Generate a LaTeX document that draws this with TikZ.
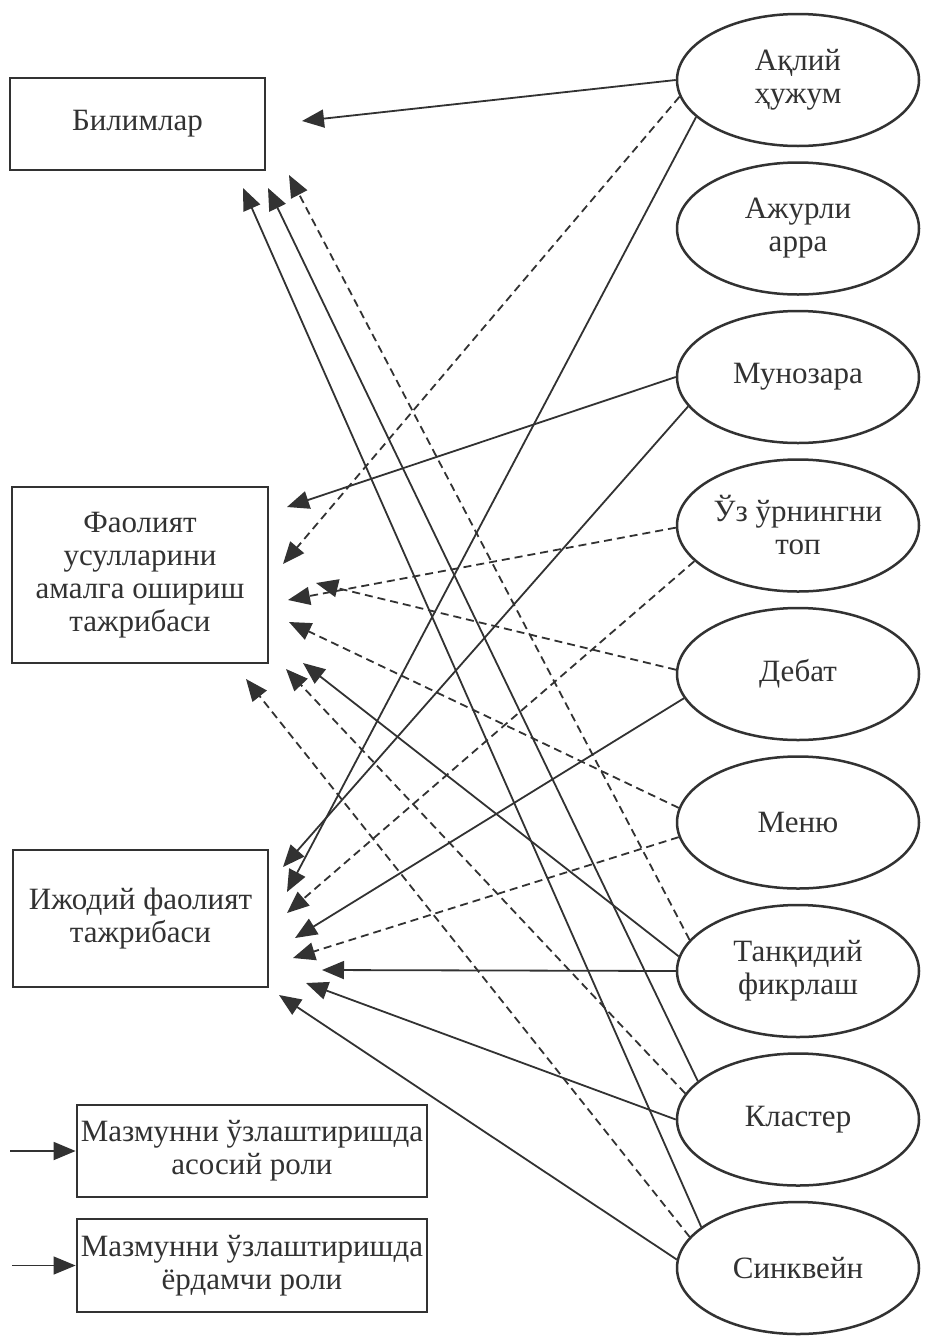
\documentclass[tikz,border=0pt]{standalone}
\usepackage{fontspec}
\setmainfont{Liberation Serif}
\usetikzlibrary{arrows.meta,shapes.geometric}
\definecolor{ink}{RGB}{50,50,50}
\begin{document}
\begin{tikzpicture}[x=1pt,y=-1pt,
  txt/.style={text=ink,font=\fontsize{31}{33}\selectfont,align=center,inner sep=0pt},
  box/.style={txt,draw=ink,line width=2.8pt},
  oval/.style={txt,ellipse,draw=ink,line width=2.5pt,minimum width=242pt,minimum height=132pt},
  main/.style={draw=ink,line width=1.8pt,-{Triangle[length=22pt,width=18pt]}},
  aux/.style={main,dash pattern=on 8pt off 5pt}]
\useasboundingbox[fill=white] (0,0) rectangle (925,1336);

% left boxes
\node[box,minimum width=255pt,minimum height=92pt] (bil) at (137.5,124) {Билимлар};
\node[box,minimum width=256pt,minimum height=176pt] (fao) at (140,575) {Фаолият\\усулларини\\амалга ошириш\\тажрибаси};
\node[box,minimum width=255pt,minimum height=137pt] (ijo) at (140.5,918.5) {Ижодий фаолият\\тажрибаси};
\node[box,minimum width=350pt,minimum height=92pt] (leg1) at (252,1151) {Мазмунни ўзлаштиришда\\асосий роли};
\node[box,minimum width=350pt,minimum height=93pt] (leg2) at (252,1265.5) {Мазмунни ўзлаштиришда\\ёрдамчи роли};

% right ellipses
\node[oval] (ak) at (798,80) {Ақлий\\ҳужум};
\node[oval] (aj) at (798,228.5) {Ажурли\\арра};
\node[oval] (mu) at (798,377) {Мунозара};
\node[oval] (uz) at (798,525.5) {Ўз ўрнингни\\топ};
\node[oval] (de) at (798,674) {Дебат};
\node[oval] (me) at (798,822.5) {Меню};
\node[oval] (ta) at (798,971) {Танқидий\\фикрлаш};
\node[oval] (kl) at (798,1119.5) {Кластер};
\node[oval] (si) at (798,1268) {Синквейн};

% arrow tips near the boxes
\coordinate (tb1) at (302,121);
\coordinate (tb2) at (243,188);
\coordinate (tb3) at (268,188);
\coordinate (tb4) at (289,175);
\coordinate (tf1) at (287,507);
\coordinate (tf2) at (283,564);
\coordinate (tf3) at (316,583);
\coordinate (tf4) at (288,600);
\coordinate (tf5) at (289,622);
\coordinate (tf6) at (303,663);
\coordinate (tf7) at (286,669);
\coordinate (tf8) at (246,679);
\coordinate (ti1) at (283,867);
\coordinate (ti2) at (287,892);
\coordinate (ti3) at (287,913);
\coordinate (ti4) at (295,938);
\coordinate (ti5) at (293,958);
\coordinate (ti6) at (322,970);
\coordinate (ti7) at (306,983);
\coordinate (ti8) at (279,995);

% to Билимлар
\draw[main] (ak.180) -- (tb1);
\draw[main] (si.157) -- (tb2);
\draw[main] (kl.159) -- (tb3);
\draw[aux]  (ta.164) -- (tb4);
% to Фаолият
\draw[main] (mu.180) -- (tf1);
\draw[aux]  (ak.188) -- (tf2);
\draw[aux]  (de.178) -- (tf3);
\draw[aux]  (uz.181) -- (tf4);
\draw[aux]  (me.173) -- (tf5);
\draw[main] (ta.173) -- (tf6);
\draw[aux]  (kl.167) -- (tf7);
\draw[aux]  (si.164) -- (tf8);
% to Ижодий
\draw[main] (mu.195) -- (ti1);
\draw[main] (ak.200) -- (ti2);
\draw[aux]  (uz.199) -- (ti3);
\draw[main] (de.192) -- (ti4);
\draw[aux]  (me.187) -- (ti5);
\draw[main] (ta.180) -- (ti6);
\draw[main] (kl.180) -- (ti7);
\draw[main] (si.176) -- (ti8);

% legend arrows
\coordinate (l1) at (10,1151);
\coordinate (l2) at (12,1265.5);
\draw[main] (l1) -- (leg1.west);
\draw[main,line width=1.2pt] (l2) -- (leg2.west);
\end{tikzpicture}
\end{document}
